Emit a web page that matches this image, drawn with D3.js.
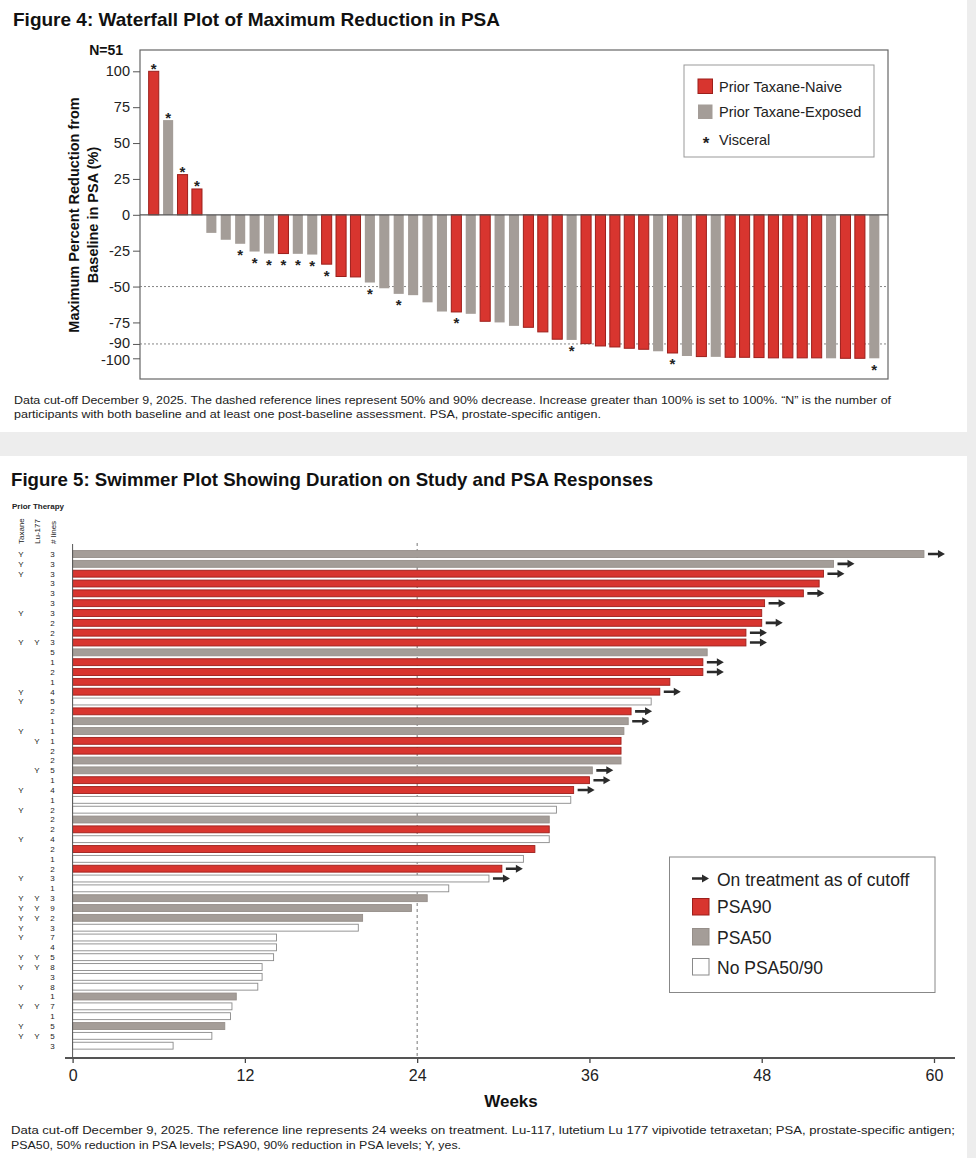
<!DOCTYPE html>
<html>
<head>
<meta charset="utf-8">
<script src="https://cdn.jsdelivr.net/npm/d3@7"></script>
<style>
  body { margin: 0; background: #ededed; }
  svg { display: block; font-family: "Liberation Sans", Arial, sans-serif; }
</style>
</head>
<body>
<svg id="chart" width="976" height="1158"></svg>
<script>
// ---- Figure 4: waterfall data (one bar per participant, sorted) ----
var psaChange = [100, 66, 28, 18, -12.6, -17.4, -20.2, -25.6, -27, -27,
  -27.2, -27.7, -34.4, -43, -43.3, -47.2, -51.2, -55.1, -56, -61,
  -67.4, -67.7, -69, -74.2, -75, -77.4, -78.4, -81.6, -86.7, -87.2,
  -89.8, -91.4, -92.1, -93, -93.7, -95.1, -96.3, -98.4, -98.8, -99,
  -99.3, -99.3, -99.5, -99.7, -99.7, -99.7, -99.7, -100, -100, -100, -100];
// N = prior taxane-naive, E = prior taxane-exposed
var taxaneGroup = ["N","E","N","N","E","E","E","E","E","N",
  "E","E","N","N","N","E","E","E","E","E",
  "E","N","E","N","E","E","N","N","N","E",
  "N","N","N","N","N","E","N","E","N","E",
  "N","N","N","N","N","N","N","E","N","N","E"];
var visceralBars = [1, 2, 3, 4, 7, 8, 9, 10, 11, 12, 13, 16, 18, 22, 30, 37, 51];
var wfTicks = [100, 75, 50, 25, 0, -25, -50, -75, -90, -100];
var wfRefLines = [-50, -90];
var wfLegend = [
  {key: "N", label: "Prior Taxane-Naive"},
  {key: "E", label: "Prior Taxane-Exposed"}
];

// ---- Figure 5: swimmer data (one row per participant, top to bottom) ----
var weeksOnStudy = [59.3, 53.0, 52.3, 52.0, 50.9, 48.2, 48.0, 48.0, 46.9, 46.9,
  44.2, 43.9, 43.9, 41.6, 40.9, 40.3, 38.9, 38.7, 38.4, 38.2,
  38.2, 38.2, 36.2, 36.0, 34.9, 34.7, 33.7, 33.2, 33.2, 33.2,
  32.2, 31.4, 29.9, 29.0, 26.2, 24.7, 23.6, 20.2, 19.9, 14.2,
  14.2, 14.0, 13.2, 13.2, 12.9, 11.4, 11.1, 11.0, 10.6, 9.7, 7.0];
// R = PSA90, G = PSA50, W = no PSA50/90
var psaResponse = ["G","G","R","R","R","R","R","R","R","R",
  "G","R","R","R","R","W","R","G","G","R",
  "R","G","G","R","R","W","W","G","R","W",
  "R","W","R","W","W","G","G","G","W","W",
  "W","W","W","W","W","G","W","W","G","W","W"];
var ongoingRows = [1, 2, 3, 5, 6, 8, 9, 10, 12, 13, 15, 17, 18, 23, 24, 25, 33, 34];
var taxaneRows = [1, 2, 3, 7, 10, 15, 16, 19, 25, 27, 30, 34, 36, 37, 38, 39, 40, 42, 43, 45, 47, 49, 50];
var luRows = [10, 20, 23, 36, 37, 38, 42, 43, 47, 50];
var priorLines = [3, 3, 3, 3, 3, 3, 3, 2, 2, 3,
  5, 1, 2, 1, 4, 5, 2, 1, 1, 1,
  2, 2, 5, 1, 4, 1, 2, 2, 2, 4,
  2, 1, 2, 3, 1, 3, 9, 2, 3, 7,
  4, 5, 8, 3, 8, 1, 7, 1, 5, 5, 3];
var weekTicks = [0, 12, 24, 36, 48, 60];
var swLegend = [
  {key: "R", label: "PSA90"},
  {key: "G", label: "PSA50"},
  {key: "W", label: "No PSA50/90"}
];

var redFill = "#d8352f", redStroke = "#9c1f1b";
var grayFill = "#a49d98";

var svg = d3.select("#chart");

// white panels on the grey page
svg.append("rect").attr("x", 0).attr("y", 0).attr("width", 967).attr("height", 432).attr("fill", "#fff");
svg.append("rect").attr("x", 0).attr("y", 456).attr("width", 967).attr("height", 702).attr("fill", "#fff");

// ================= Figure 4 =================
svg.append("text")
  .attr("x", 13).attr("y", 26)
  .attr("font-size", 19).attr("font-weight", "bold").attr("fill", "#111")
  .attr("textLength", 487).attr("lengthAdjust", "spacingAndGlyphs")
  .text("Figure 4: Waterfall Plot of Maximum Reduction in PSA");

var wfX = d3.scaleBand()
  .domain(d3.range(1, psaChange.length + 1))
  .range([146.5, 881.5])
  .paddingInner(0.3)
  .paddingOuter(0.15);
var wfY = d3.scaleLinear().domain([-100, 100]).range([358.3, 71.3]);

var wf = svg.append("g").attr("class", "waterfall");

wf.append("rect")
  .attr("x", 140).attr("y", 50).attr("width", 748).attr("height", 329)
  .attr("fill", "#fff").attr("stroke", "#666").attr("stroke-width", 1.2);

wf.selectAll(".wf-ref")
  .data(wfRefLines)
  .join("line")
  .attr("class", "wf-ref")
  .attr("x1", 140).attr("x2", 888)
  .attr("y1", d => wfY(d)).attr("y2", d => wfY(d))
  .attr("stroke", "#777").attr("stroke-width", 0.9)
  .attr("stroke-dasharray", "2,2");

wf.selectAll(".wf-bar")
  .data(psaChange)
  .join("rect")
  .attr("class", "wf-bar")
  .attr("x", (d, i) => wfX(i + 1))
  .attr("width", wfX.bandwidth())
  .attr("y", d => wfY(Math.max(0, d)))
  .attr("height", d => Math.abs(wfY(d) - wfY(0)))
  .attr("fill", (d, i) => taxaneGroup[i] === "N" ? redFill : grayFill)
  .attr("stroke", (d, i) => taxaneGroup[i] === "N" ? redStroke : "none")
  .attr("stroke-width", 1);

// zero line
wf.append("line")
  .attr("x1", 140).attr("x2", 888)
  .attr("y1", wfY(0)).attr("y2", wfY(0))
  .attr("stroke", "#555").attr("stroke-width", 1.2);

// visceral asterisks
wf.selectAll(".wf-star")
  .data(visceralBars)
  .join("text")
  .attr("class", "wf-star")
  .attr("x", d => wfX(d) + wfX.bandwidth() / 2)
  .attr("y", d => {
    var v = psaChange[d - 1];
    return v >= 0 ? wfY(v) + 2.5 : wfY(v) + 16.5;
  })
  .attr("text-anchor", "middle")
  .attr("font-size", 15).attr("font-weight", "bold").attr("fill", "#222")
  .text("*");

var wfAxis = wf.append("g")
  .attr("transform", "translate(140,0)")
  .call(d3.axisLeft(wfY).tickValues(wfTicks).tickSize(7).tickPadding(3).tickFormat(d => String(d)));
wfAxis.select(".domain").remove();
wfAxis.attr("font-size", 14.5).attr("font-family", null);
wfAxis.selectAll("line").attr("stroke", "#555");
wfAxis.selectAll("text").attr("fill", "#222")
  .attr("dy", d => d === -90 ? "0.22em" : d === -100 ? "0.42em" : "0.32em");

wf.append("text")
  .attr("x", 123).attr("y", 55)
  .attr("text-anchor", "end")
  .attr("font-size", 14).attr("font-weight", "bold").attr("fill", "#111")
  .text("N=51");

var wfTitle = wf.append("text")
  .attr("transform", "translate(79,215) rotate(-90)")
  .attr("text-anchor", "middle")
  .attr("font-size", 14.5).attr("font-weight", "bold").attr("fill", "#111");
wfTitle.append("tspan").attr("x", 0).attr("y", 0).text("Maximum Percent Reduction from");
wfTitle.append("tspan").attr("x", 0).attr("y", 19).text("Baseline in PSA (%)");

// legend
var wfLeg = wf.append("g");
wfLeg.append("rect")
  .attr("x", 684).attr("y", 65).attr("width", 190).attr("height", 92)
  .attr("fill", "#fff").attr("stroke", "#999").attr("stroke-width", 1);
wfLeg.selectAll(".wf-sw")
  .data(wfLegend)
  .join("rect")
  .attr("class", "wf-sw")
  .attr("x", 698).attr("y", (d, i) => 79 + i * 25.5)
  .attr("width", 14.5).attr("height", 14.5)
  .attr("fill", d => d.key === "N" ? redFill : grayFill)
  .attr("stroke", d => d.key === "N" ? redStroke : "none");
wfLeg.selectAll(".wf-lt")
  .data(wfLegend)
  .join("text")
  .attr("class", "wf-lt")
  .attr("x", 719).attr("y", (d, i) => 91.5 + i * 25.8)
  .attr("font-size", 14.5).attr("fill", "#222")
  .text(d => d.label);
wfLeg.append("text")
  .attr("x", 706).attr("y", 149)
  .attr("text-anchor", "middle")
  .attr("font-size", 17).attr("font-weight", "bold").attr("fill", "#222")
  .text("*");
wfLeg.append("text")
  .attr("x", 719).attr("y", 145)
  .attr("font-size", 14.5).attr("fill", "#222")
  .text("Visceral");

svg.append("text")
  .attr("x", 14).attr("y", 404)
  .attr("font-size", 11).attr("fill", "#222")
  .attr("textLength", 877).attr("lengthAdjust", "spacingAndGlyphs")
  .text("Data cut-off December 9, 2025. The dashed reference lines represent 50% and 90% decrease. Increase greater than 100% is set to 100%. \u201cN\u201d is the number of");
svg.append("text")
  .attr("x", 14).attr("y", 418)
  .attr("font-size", 11).attr("fill", "#222")
  .attr("textLength", 587).attr("lengthAdjust", "spacingAndGlyphs")
  .text("participants with both baseline and at least one post-baseline assessment. PSA, prostate-specific antigen.");

// ================= Figure 5 =================
svg.append("text")
  .attr("x", 11).attr("y", 486)
  .attr("font-size", 19).attr("font-weight", "bold").attr("fill", "#111")
  .attr("textLength", 642).attr("lengthAdjust", "spacingAndGlyphs")
  .text("Figure 5: Swimmer Plot Showing Duration on Study and PSA Responses");

var rows = d3.range(1, weeksOnStudy.length + 1);
var swY = d3.scaleBand()
  .domain(rows)
  .range([549.1, 1050.6])
  .paddingInner(0.3)
  .paddingOuter(0.15);
var swX = d3.scaleLinear().domain([0, 60]).range([72.6, 934]);

var sw = svg.append("g").attr("class", "swimmer");

// 24-week reference line
sw.append("line")
  .attr("x1", swX(24)).attr("x2", swX(24))
  .attr("y1", 543).attr("y2", 1058)
  .attr("stroke", "#777").attr("stroke-width", 1)
  .attr("stroke-dasharray", "3,3");

var fillOf = {R: redFill, G: grayFill, W: "#fff"};
var strokeOf = {R: redStroke, G: "#958e89", W: "#8a8a8a"};

sw.selectAll(".sw-bar")
  .data(rows)
  .join("rect")
  .attr("class", "sw-bar")
  .attr("x", swX(0))
  .attr("y", r => swY(r))
  .attr("width", r => swX(weeksOnStudy[r - 1]) - swX(0))
  .attr("height", swY.bandwidth())
  .attr("fill", r => fillOf[psaResponse[r - 1]])
  .attr("stroke", r => strokeOf[psaResponse[r - 1]])
  .attr("stroke-width", 0.9);

// on-treatment arrows
function arrowPath(x0, cy) {
  return "M" + x0 + "," + (cy - 1.3) + "H" + (x0 + 10) + "V" + (cy - 4) +
    "L" + (x0 + 17) + "," + cy + "L" + (x0 + 10) + "," + (cy + 4) +
    "V" + (cy + 1.3) + "H" + x0 + "Z";
}
sw.selectAll(".sw-arrow")
  .data(ongoingRows)
  .join("path")
  .attr("class", "sw-arrow")
  .attr("d", r => arrowPath(swX(weeksOnStudy[r - 1]) + 4, swY(r) + swY.bandwidth() / 2))
  .attr("fill", "#2b2b2b");

// axes
sw.append("line")
  .attr("x1", swX(0)).attr("x2", swX(0))
  .attr("y1", 544).attr("y2", 1058)
  .attr("stroke", "#555").attr("stroke-width", 1);

var swAxis = sw.append("g")
  .attr("transform", "translate(0,1058)")
  .call(d3.axisBottom(swX).tickValues(weekTicks).tickSize(5).tickPadding(7));
swAxis.select(".domain").remove();
swAxis.attr("font-size", 16).attr("font-family", null);
swAxis.selectAll("line").attr("stroke", "#444").attr("stroke-width", 1.3);
swAxis.selectAll("text").attr("fill", "#222");
sw.append("line")
  .attr("x1", 65).attr("x2", 955)
  .attr("y1", 1058).attr("y2", 1058)
  .attr("stroke", "#555").attr("stroke-width", 2);

sw.append("text")
  .attr("x", 511).attr("y", 1107)
  .attr("text-anchor", "middle")
  .attr("font-size", 17).attr("font-weight", "bold").attr("fill", "#111")
  .text("Weeks");

// prior therapy columns
sw.append("text")
  .attr("x", 12).attr("y", 509)
  .attr("font-size", 8).attr("font-weight", "bold").attr("fill", "#222")
  .text("Prior Therapy");
var colHeads = [
  {label: "Taxane", x: 24},
  {label: "Lu-177", x: 40},
  {label: "# lines", x: 55.5}
];
sw.selectAll(".sw-head")
  .data(colHeads)
  .join("text")
  .attr("class", "sw-head")
  .attr("transform", d => "translate(" + d.x + ",544) rotate(-90)")
  .attr("font-size", 8).attr("fill", "#222")
  .text(d => d.label);

var rowText = sw.append("g")
  .attr("font-size", 8).attr("fill", "#222").attr("text-anchor", "middle");
rowText.selectAll(".tax")
  .data(taxaneRows)
  .join("text")
  .attr("class", "tax")
  .attr("x", 21).attr("y", r => swY(r) + swY.bandwidth() / 2 + 2.9)
  .text("Y");
rowText.selectAll(".lu")
  .data(luRows)
  .join("text")
  .attr("class", "lu")
  .attr("x", 37).attr("y", r => swY(r) + swY.bandwidth() / 2 + 2.9)
  .text("Y");
rowText.selectAll(".lines")
  .data(rows)
  .join("text")
  .attr("class", "lines")
  .attr("x", 52.5).attr("y", r => swY(r) + swY.bandwidth() / 2 + 2.9)
  .text(r => priorLines[r - 1]);

// legend
var swLeg = sw.append("g");
swLeg.append("rect")
  .attr("x", 669.5).attr("y", 857).attr("width", 265.5).attr("height", 135.5)
  .attr("fill", "#fff").attr("stroke", "#888").attr("stroke-width", 1);
swLeg.append("path")
  .attr("d", arrowPath(692, 878.5))
  .attr("fill", "#2b2b2b");
swLeg.append("text")
  .attr("x", 717).attr("y", 886)
  .attr("font-size", 17.5).attr("fill", "#222")
  .text("On treatment as of cutoff");
swLeg.selectAll(".sw-sw")
  .data(swLegend)
  .join("rect")
  .attr("class", "sw-sw")
  .attr("x", 692.5).attr("y", (d, i) => 898.5 + i * 30)
  .attr("width", 16.5).attr("height", 16.5)
  .attr("fill", d => fillOf[d.key])
  .attr("stroke", d => strokeOf[d.key]);
swLeg.selectAll(".sw-lt")
  .data(swLegend)
  .join("text")
  .attr("class", "sw-lt")
  .attr("x", 717).attr("y", (d, i) => 913 + i * 30.5)
  .attr("font-size", 17.5).attr("fill", "#222")
  .text(d => d.label);

svg.append("text")
  .attr("x", 11).attr("y", 1134)
  .attr("font-size", 11).attr("fill", "#222")
  .attr("textLength", 944).attr("lengthAdjust", "spacingAndGlyphs")
  .text("Data cut-off December 9, 2025. The reference line represents 24 weeks on treatment. Lu-117, lutetium Lu 177 vipivotide tetraxetan; PSA, prostate-specific antigen;");
svg.append("text")
  .attr("x", 11).attr("y", 1149)
  .attr("font-size", 11).attr("fill", "#222")
  .attr("textLength", 450).attr("lengthAdjust", "spacingAndGlyphs")
  .text("PSA50, 50% reduction in PSA levels; PSA90, 90% reduction in PSA levels; Y, yes.");
</script>
</body>
</html>
